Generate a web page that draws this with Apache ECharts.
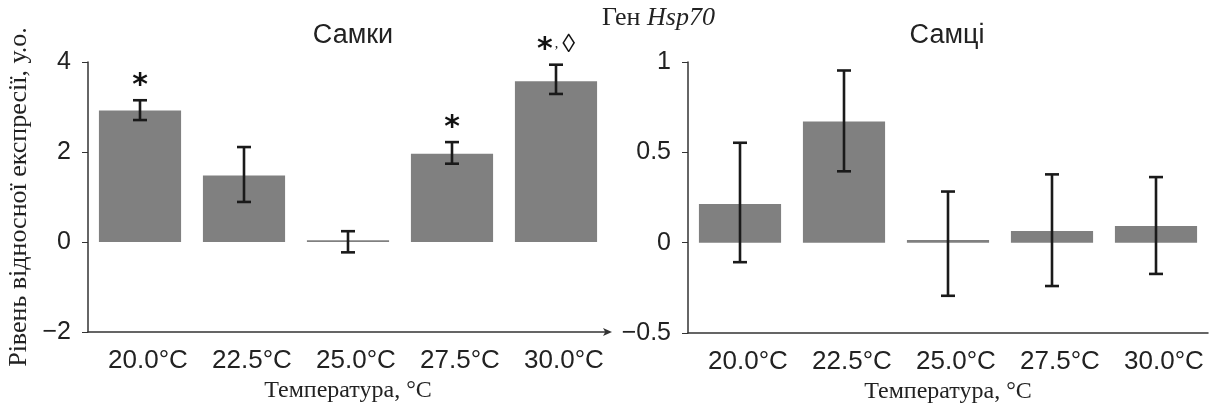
<!DOCTYPE html>
<html>
<head>
<meta charset="utf-8">
<script src="https://cdn.jsdelivr.net/npm/echarts@6/dist/echarts.min.js"></script>
<style>
html,body{margin:0;padding:0;background:#fff;}
#chart{width:1221px;height:409px;}
</style>
</head>
<body>
<div id="chart"></div>
<script>
// ---- data ----
const categories = ['20.0°C', '22.5°C', '25.0°C', '27.5°C', '30.0°C'];
const femaleValues = [2.92, 1.48, 0.04, 1.96, 3.57];
const femaleLow    = [2.71, 0.89, -0.23, 1.74, 3.29];
const femaleHigh   = [3.15, 2.11, 0.24, 2.22, 3.94];
const femaleStars  = ['*', '', '', '*', '*'];
const femaleDiamond = ['', '', '', '', '◊'];
const maleValues = [0.214, 0.67, 0.015, 0.065, 0.092];
const maleLow    = [-0.108, 0.395, -0.294, -0.24, -0.173];
const maleHigh   = [0.553, 0.953, 0.283, 0.378, 0.363];
const maleStars  = ['', '', '', '', ''];
const maleDiamond = ['', '', '', '', ''];
const femaleTicks = [-2, 0, 2, 4];
const maleTicks = [-0.5, 0, 0.5, 1];

const chart = echarts.init(document.getElementById('chart'));
const TXT = '#222';
const SANS = '"Liberation Sans", Arial, sans-serif';
const SERIF = '"Liberation Serif", "Times New Roman", serif';

function fmt(v){ return (v < 0 ? '−' : '') + Math.abs(v); }

function errRender(stars, diamonds){
  return function(params, api){
    const i = api.value(0);
    const top = api.coord([i, api.value(2)]);
    const bot = api.coord([i, api.value(1)]);
    const cap = 7;
    const ls = {stroke:'#1a1a1a', lineWidth:2.6};
    const children = [
      {type:'line', shape:{x1:top[0], y1:top[1], x2:bot[0], y2:bot[1]}, style:ls},
      {type:'line', shape:{x1:top[0]-cap, y1:top[1], x2:top[0]+cap, y2:top[1]}, style:ls},
      {type:'line', shape:{x1:bot[0]-cap, y1:bot[1], x2:bot[0]+cap, y2:bot[1]}, style:ls}
    ];
    const s = stars[i], d = diamonds[i];
    if (s || d) {
      let t = '';
      if (s) t += '{s|' + s + '}';
      if (d) t += '{c|,}{d|' + d + '}';
      children.push({type:'text', x: top[0], y: top[1] - 20, style:{
        text: t, align:'center', verticalAlign:'middle',
        rich:{
          s:{fontFamily:'"DejaVu Sans", sans-serif', fontWeight:'bold', fontSize:30, fill:'#111', padding:[12,0,0,0]},
          c:{fontFamily:SERIF, fontSize:14, fill:'#111', padding:[0,4,0,2]},
          d:{fontFamily:SERIF, fontSize:26, fill:'#111'}
        }
      }});
    }
    return {type:'group', children};
  };
}

function xAxisCfg(gridIndex, arrow){
  return {
    type:'category', gridIndex, data:categories,
    name:'Температура, °С', nameLocation:'middle', nameGap:45,
    nameTextStyle:{fontFamily:SERIF, fontSize:24, color:TXT},
    axisLine:{onZero:false, lineStyle:{color:'#333', width:1.5},
      symbol: arrow ? ['none','arrow'] : ['none','none'], symbolSize:[6,9], symbolOffset:[0,4]},
    axisTick:{alignWithLabel:true, length:9, lineStyle:{color:'#333', width:1.2}},
    axisLabel:{interval:0, hideOverlap:false, fontFamily:SANS, fontSize:26, color:TXT, margin:16, padding:[0,0,0,16]},
    splitLine:{show:false}
  };
}

function yAxisCfg(gridIndex, min, max, interval, name){
  return {
    type:'value', gridIndex, min, max, interval,
    name: name || '', nameLocation:'middle', nameGap:56,
    nameTextStyle:{fontFamily:SERIF, fontSize:26, color:TXT},
    axisLine:{show:true, onZero:false, lineStyle:{color:'#333', width:1.5}},
    axisTick:{show:true, length:6, lineStyle:{color:'#333', width:1}},
    axisLabel:{fontFamily:SANS, fontSize:25, color:TXT, margin:17, formatter:fmt},
    splitLine:{show:false}
  };
}

function errData(low, high){ return categories.map((c, i) => [i, low[i], high[i]]); }

const option = {
  backgroundColor:'#fff',
  animation:false,
  title:[
    {text:'Самки', left:348, top:17, textAlign:'center', textStyle:{fontFamily:SANS, fontSize:27, fontWeight:'normal', color:TXT}},
    {text:'Самці', left:942, top:17, textAlign:'center', textStyle:{fontFamily:SANS, fontSize:27, fontWeight:'normal', color:TXT}},
    {text:'{a|Ген }{b|Hsp70}', left:597, top:0, textStyle:{fontWeight:'normal', rich:{
      a:{fontFamily:SERIF, fontSize:26, fontWeight:'normal', color:TXT},
      b:{fontFamily:SERIF, fontSize:26, fontWeight:'normal', fontStyle:'italic', color:TXT}
    }}}
  ],
  grid:[
    {left:88, top:62, width:520, height:270},
    {left:688, top:62, width:520, height:271}
  ],
  xAxis:[xAxisCfg(0, true), xAxisCfg(1, false)],
  yAxis:[
    yAxisCfg(0, -2, 4, 2, 'Рівень відносної експресії, у.о.'),
    yAxisCfg(1, -0.5, 1, 0.5, '')
  ],
  series:[
    {type:'bar', xAxisIndex:0, yAxisIndex:0, data:femaleValues, barWidth:'79%',
      itemStyle:{color:'#808080'}, z:2},
    {type:'custom', xAxisIndex:0, yAxisIndex:0, data:errData(femaleLow, femaleHigh),
      renderItem:errRender(femaleStars, femaleDiamond), z:5, clip:false},
    {type:'bar', xAxisIndex:1, yAxisIndex:1, data:maleValues, barWidth:'79%',
      itemStyle:{color:'#808080'}, z:2},
    {type:'custom', xAxisIndex:1, yAxisIndex:1, data:errData(maleLow, maleHigh),
      renderItem:errRender(maleStars, maleDiamond), z:5, clip:false}
  ]
};
chart.setOption(option);
</script>
</body>
</html>
